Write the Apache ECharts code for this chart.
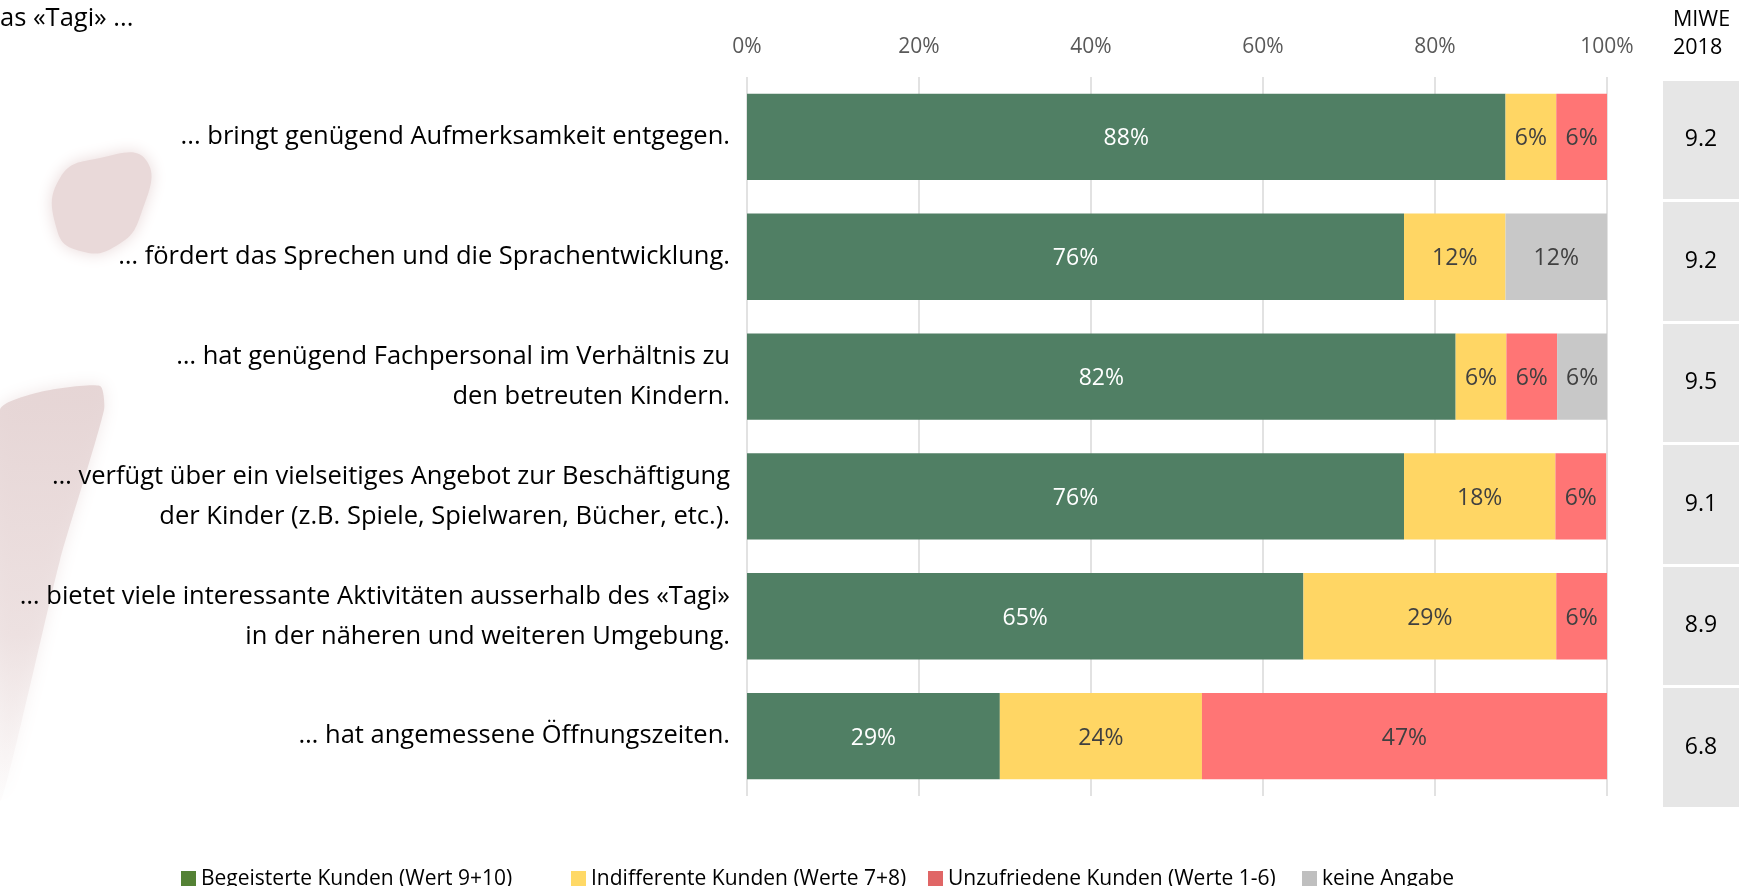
<!DOCTYPE html>
<html>
<head>
<meta charset="utf-8">
<script src="https://cdn.jsdelivr.net/npm/echarts@6/dist/echarts.min.js"></script>
<style>
  html, body { margin: 0; padding: 0; background: #fff; }
  #main { width: 1742px; height: 886px; }
</style>
</head>
<body>
<div id="main"></div>
<script>
var categories = [
  '... bringt genügend Aufmerksamkeit entgegen.',
  '… fördert das Sprechen und die Sprachentwicklung.',
  '… hat genügend Fachpersonal im Verhältnis zu\nden betreuten Kindern.',
  '… verfügt über ein vielseitiges Angebot zur Beschäftigung\nder Kinder (z.B. Spiele, Spielwaren, Bücher, etc.).',
  '… bietet viele interessante Aktivitäten ausserhalb des «Tagi»\nin der näheren und weiteren Umgebung.',
  '… hat angemessene Öffnungszeiten.'
];
var begeistert = [88.2, 76.4, 82.4, 76.4, 64.7, 29.4];
var indifferent = [5.9, 11.8, 5.9, 17.6, 29.4, 23.5];
var unzufrieden = [5.9, 0, 5.9, 5.9, 5.9, 47.1];
var keineAngabe = [0, 11.8, 5.9, 0, 0, 0];
var miwe = ['9.2', '9.2', '9.5', '9.1', '8.9', '6.8'];
var xTicks = [0, 20, 40, 60, 80, 100];

var seriesNames = [
  'Begeisterte Kunden (Wert 9+10)',
  'Indifferente Kunden (Werte 7+8)',
  'Unzufriedene Kunden (Werte 1-6)',
  'keine Angabe'
];
var barColors = ['#507F64', '#FFD664', '#FF7575', '#C8C8C8'];
var legendColors = ['#548235', '#FFD966', '#E06666', '#BFBFBF'];
var legendLeft = [176, 566, 923, 1297];
var labelColors = ['#ffffff', '#404040', '#404040', '#404040'];
var seriesData = [begeistert, indifferent, unzufrieden, keineAngabe];

var FONT = 'Open Sans';

var myChart = echarts.init(document.getElementById('main'));

var option = {
  animation: false,
  backgroundColor: '#ffffff',
  textStyle: { fontFamily: FONT },
  title: [
    {
      text: 'as «Tagi» ...',
      left: 0, top: 6, padding: 0,
      textStyle: { fontFamily: FONT, fontSize: 25.5, fontWeight: 'normal', color: '#000' }
    },
    {
      text: 'MIWE\n2018',
      left: 1673, top: 6, padding: 0,
      textStyle: { fontFamily: FONT, fontSize: 21.5, fontWeight: 'normal', color: '#000', lineHeight: 28 }
    }
  ],
  // faded logo in the background
  graphic: [
    {
      type: 'polygon', z: -10, silent: true,
      shape: { points: [[60, 178], [100, 158], [146, 160], [141, 214], [116, 246], [80, 251], [57, 230]], smooth: 0.5 },
      style: { fill: '#e9d9d9', shadowBlur: 16, shadowColor: '#e9d9d9' }
    },
    {
      type: 'polygon', z: -10, silent: true,
      shape: { points: [[0, 410], [40, 392], [100, 386], [104, 410], [60, 560], [22, 720], [0, 800]], smooth: 0.2 },
      style: {
        fill: new echarts.graphic.LinearGradient(0, 0, 0, 1, [
          { offset: 0, color: 'rgba(229,212,212,0.95)' },
          { offset: 0.6, color: 'rgba(234,220,220,0.7)' },
          { offset: 1, color: 'rgba(246,240,240,0.2)' }
        ]),
        shadowBlur: 16, shadowColor: 'rgba(229,212,212,0.6)'
      }
    }
  ],
  legend: seriesNames.map(function (n, i) {
    return {
      left: legendLeft[i], top: 864,
      orient: 'horizontal',
      icon: 'rect',
      itemWidth: 15, itemHeight: 17,
      selectedMode: false,
      textStyle: { fontFamily: FONT, fontSize: 21, color: '#000' },
      data: [{ name: n, itemStyle: { color: legendColors[i] } }]
    };
  }),
  grid: [
    { left: 747, width: 860, top: 77, height: 719, containLabel: false },
    { left: 1663, width: 76, top: 79, height: 729, containLabel: false }
  ],
  xAxis: [
    {
      gridIndex: 0, type: 'value', position: 'top',
      min: xTicks[0], max: xTicks[xTicks.length - 1], interval: 20,
      axisLine: { show: false }, axisTick: { show: false },
      axisLabel: { formatter: '{value}%', color: '#595959', fontSize: 21, margin: 19, fontFamily: FONT },
      splitLine: { show: true, lineStyle: { color: '#D9D9D9', width: 1.5 } }
    },
    {
      gridIndex: 1, type: 'value', show: false
    }
  ],
  yAxis: [
    {
      gridIndex: 0, type: 'category', data: categories, inverse: true,
      axisLine: { show: false }, axisTick: { show: false },
      axisLabel: { color: '#000', fontSize: 25.5, lineHeight: 40, margin: 17, padding: [5, 0, 0, 0], fontFamily: FONT }
    },
    {
      gridIndex: 1, type: 'category', data: miwe, inverse: true,
      axisLine: { show: false }, axisTick: { show: false },
      axisLabel: { inside: true, align: 'center', margin: 38, padding: [9, 0, 0, 0], color: '#000', fontSize: 23, fontFamily: FONT },
      splitArea: { show: true, areaStyle: { color: ['#E6E6E6'] } },
      splitLine: { show: true, lineStyle: { color: '#ffffff', width: 3 } }
    }
  ],
  series: seriesNames.map(function (n, i) {
    return {
      name: n,
      type: 'bar',
      stack: 'total',
      xAxisIndex: 0, yAxisIndex: 0,
      barCategoryGap: '28%',
      itemStyle: { color: barColors[i] },
      label: {
        show: true, position: 'inside', offset: [0, 2],
        color: labelColors[i], fontSize: 23, fontFamily: FONT,
        formatter: function (p) { return p.value ? Math.round(p.value) + '%' : ''; }
      },
      data: seriesData[i]
    };
  })
};

myChart.setOption(option);
</script>
</body>
</html>
